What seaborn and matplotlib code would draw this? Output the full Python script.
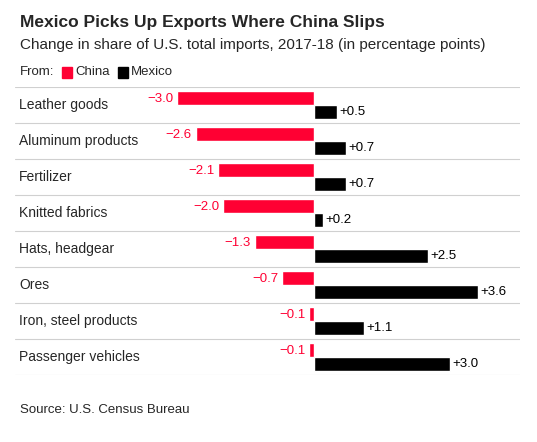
import matplotlib
matplotlib.use("Agg")
import matplotlib.pyplot as plt
import pandas as pd
import seaborn as sns

categories = ["Leather goods", "Aluminum products", "Fertilizer", "Knitted fabrics",
              "Hats, headgear", "Ores", "Iron, steel products", "Passenger vehicles"]
china = [-3.0, -2.6, -2.1, -2.0, -1.3, -0.7, -0.1, -0.1]
mexico = [0.5, 0.7, 0.7, 0.2, 2.5, 3.6, 1.1, 3.0]

RED = "#ff0033"
BLACK = "#000000"

df = pd.DataFrame({
    "category": categories * 2,
    "value": china + mexico,
    "country": ["China"] * len(categories) + ["Mexico"] * len(categories),
})

sns.set_style("white")
plt.rcParams["font.family"] = ["Liberation Sans", "DejaVu Sans"]

W, H = 537, 442
fig = plt.figure(figsize=(W / 100, H / 100), dpi=100)
ax = fig.add_axes([15 / W, 1 - 375 / H, 505 / W, 288 / H])

sns.barplot(data=df, x="value", y="category", hue="country", order=categories,
            palette=[RED, BLACK], width=0.8, orient="h", legend=False, ax=ax,
            saturation=1)

ax.set_xlim(-6.57, 4.53)
ax.set_ylim(len(categories) - 0.5, -0.5)
for i in range(len(categories) + 1):
    ax.axhline(i - 0.5, color="#d0d0d0", lw=0.8, zorder=0)
for s in ax.spines.values():
    s.set_visible(False)
ax.set_xticks([])
ax.set_yticks([])
ax.set_xlabel("")
ax.set_ylabel("")

for i, name in enumerate(categories):
    ax.text(-6.48, i, name, va="center", ha="left", fontsize=10)
    c, m = china[i], mexico[i]
    ax.text(c - 0.08, i - 0.17, f"\u2212{abs(c):.1f}", color=RED, va="center",
            ha="right", fontsize=9.5)
    ax.text(m + 0.05, i + 0.2, f"+{m:.1f}", color=BLACK, va="center",
            ha="left", fontsize=9.5)

fig.text(20 / W, 1 - 22 / H, "Mexico Picks Up Exports Where China Slips",
         fontsize=12.5, fontweight="bold", va="center")
fig.text(20 / W, 1 - 45 / H,
         "Change in share of U.S. total imports, 2017-18 (in percentage points)",
         fontsize=11, va="center")
fig.text(20 / W, 1 - 72 / H, "From:", fontsize=9.5, va="center")
fig.patches.append(plt.Rectangle((62 / W, 1 - 78 / H), 10 / W, 11 / H,
                                 color=RED, transform=fig.transFigure))
fig.text(75 / W, 1 - 72 / H, "China", fontsize=9.5, va="center")
fig.patches.append(plt.Rectangle((118 / W, 1 - 78 / H), 10 / W, 11 / H,
                                 color=BLACK, transform=fig.transFigure))
fig.text(131 / W, 1 - 72 / H, "Mexico", fontsize=9.5, va="center")
fig.text(20 / W, 1 - 410 / H, "Source: U.S. Census Bureau", fontsize=9.5,
         va="center")

fig.savefig("out.png", dpi=100)
